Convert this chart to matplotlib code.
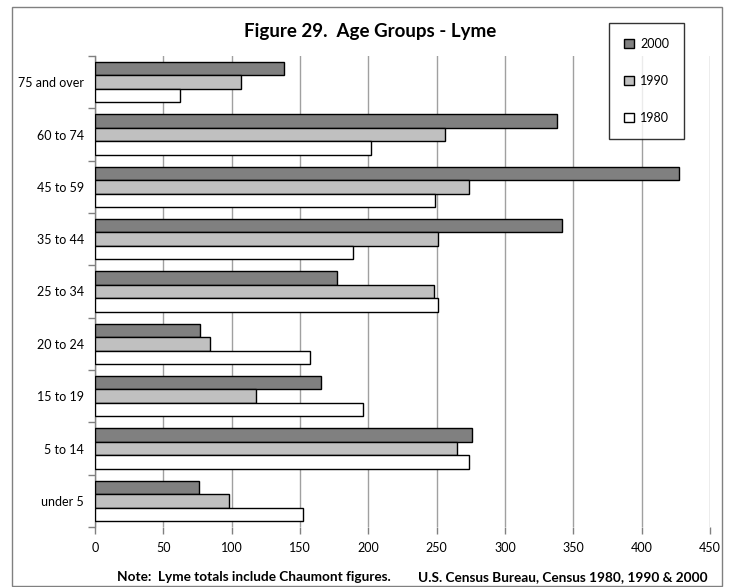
import matplotlib
matplotlib.use("Agg")
import matplotlib.pyplot as plt
from matplotlib.patches import Rectangle
import numpy as np

plt.rcParams['font.family'] = ['Lato', 'DejaVu Sans']

categories = ["75 and over", "60 to 74", "45 to 59", "35 to 44", "25 to 34",
              "20 to 24", "15 to 19", "5 to 14", "under 5"]
v2000 = [138, 338, 427, 342, 177, 77, 165, 276, 76]
v1990 = [107, 256, 274, 251, 248, 84, 118, 265, 98]
v1980 = [62, 202, 249, 189, 251, 157, 196, 274, 152]
series_names = ["2000", "1990", "1980"]
series_colors = ["#808080", "#C0C0C0", "#FFFFFF"]
xticks = [0, 50, 100, 150, 200, 250, 300, 350, 400, 450]

W, H = 730, 587
fig = plt.figure(figsize=(W / 100, H / 100), dpi=100)
ax = fig.add_axes([95 / W, 1 - 527 / H, (710 - 95) / W, (527 - 56) / H])

n = len(categories)
pos = np.arange(n)
bh = 0.255
offsets = [-bh, 0, bh]
for vals, name, col, off in zip([v2000, v1990, v1980], series_names, series_colors, offsets):
    ax.barh(pos + off, vals, height=bh, color=col, edgecolor="black",
            linewidth=1.0, label=name, zorder=3)

ax.set_ylim(n - 0.5, -0.5)
ax.set_xlim(0, 450)
ax.set_xticks(xticks)
ax.set_xticklabels([str(t) for t in xticks], fontsize=9)
ax.set_yticks(pos)
ax.set_yticklabels(categories, fontsize=9)
ax.set_yticks(np.arange(-0.5, n, 1), minor=True)
ax.tick_params(axis='y', which='major', length=0, pad=8)
ax.tick_params(axis='y', which='minor', length=5, color="#808080", width=1)
ax.tick_params(axis='x', length=5, color="#808080", width=1, pad=6)
ax.grid(axis='x', color="#A0A0A0", linewidth=1, zorder=0)
for s in ["top", "right", "bottom"]:
    ax.spines[s].set_visible(False)
ax.spines["left"].set_color("#808080")
ax.spines["left"].set_linewidth(1)

fig.text(370 / W, 1 - 31 / H, "Figure 29.  Age Groups - Lyme", fontsize=13.5,
         fontweight="bold", ha="center", va="center")

leg = fig.legend(loc="upper left", bbox_to_anchor=(609 / W, 1 - 23 / H), fontsize=9,
                 frameon=True, fancybox=False, edgecolor="black", handlelength=0.8,
                 handleheight=0.8, labelspacing=2.0, borderpad=1.2, handletextpad=0.5,
                 borderaxespad=0)
leg.get_frame().set_linewidth(1)

fig.text(117 / W, 1 - 577 / H, "Note:  Lyme totals include Chaumont figures.",
         fontsize=9.8, fontweight="bold", ha="left", va="center")
fig.text(418 / W, 1 - 577 / H, "U.S. Census Bureau, Census 1980, 1990 & 2000",
         fontsize=9.8, fontweight="bold", ha="left", va="center")

fig.patches.append(Rectangle((12 / W, 1 - 586 / H), (722 - 12) / W, (586 - 7) / H,
                             transform=fig.transFigure, fill=False,
                             edgecolor="#808080", linewidth=1))

fig.savefig("out.png", dpi=100, facecolor="white")
